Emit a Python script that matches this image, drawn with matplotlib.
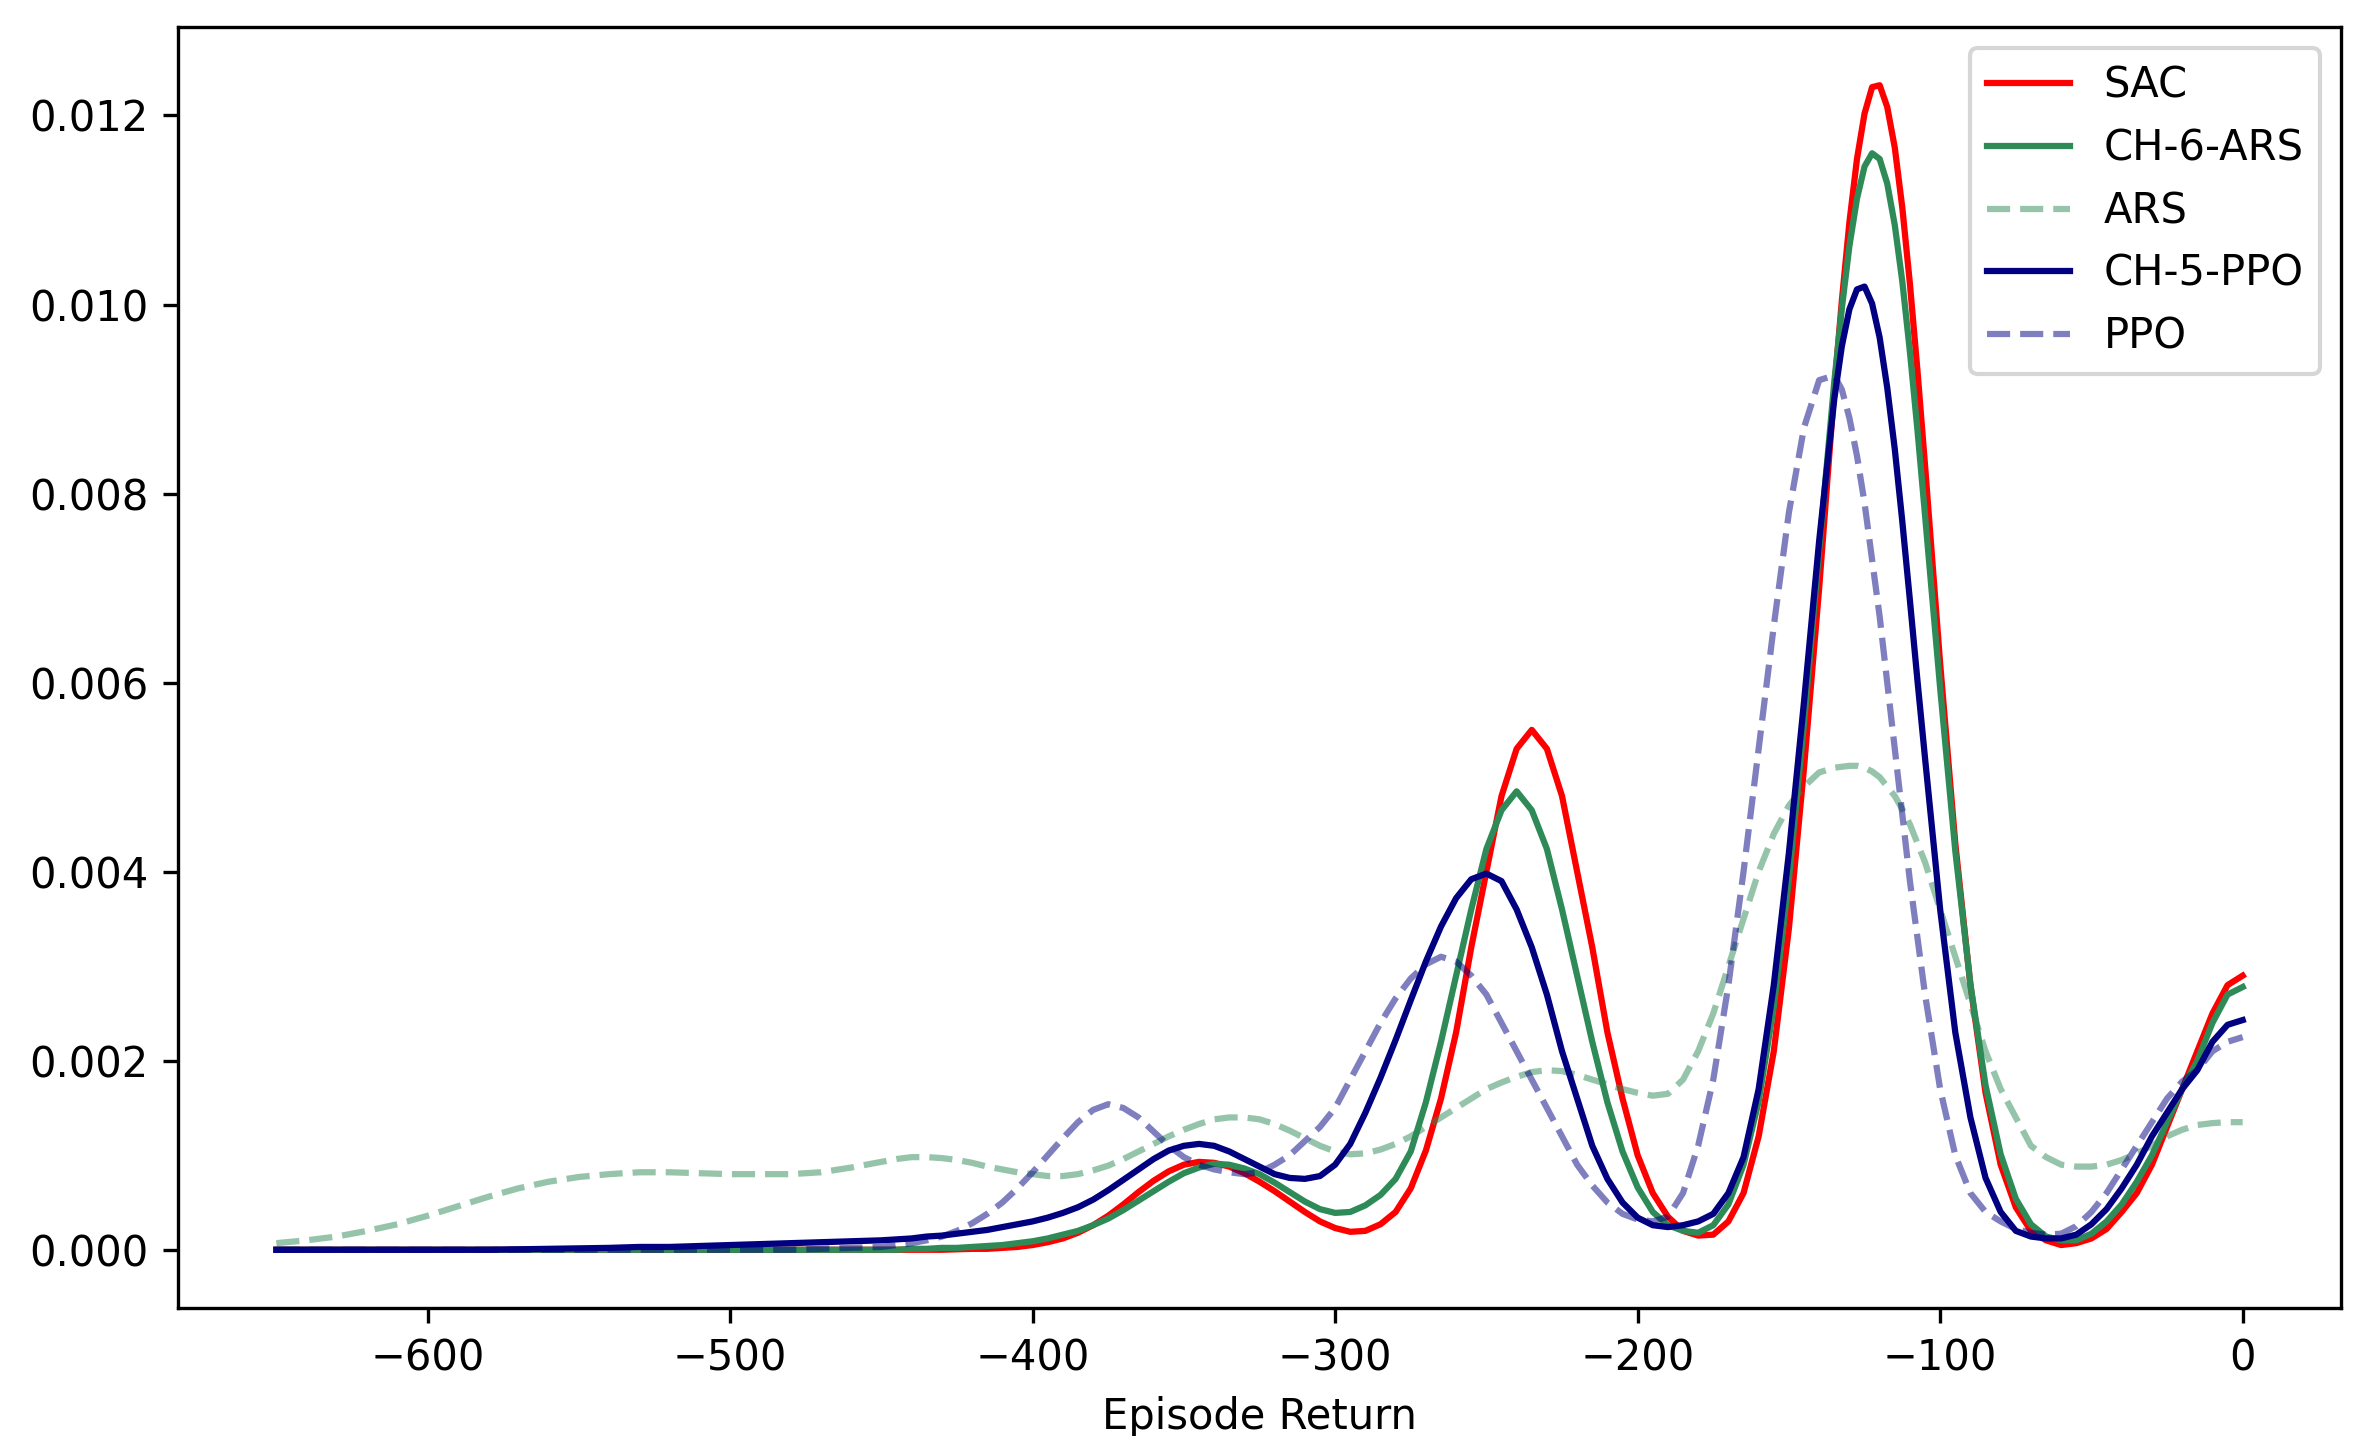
import numpy as np
import matplotlib
matplotlib.use("Agg")
import matplotlib.pyplot as plt

# x grid (Episode Return): coarser where curves are flat, finer around the main peak
episode_return = np.concatenate([
    np.arange(-650, -450, 10),
    np.arange(-450, -135, 5),
    np.arange(-135, -105, 2.5),
    np.arange(-105, 1, 5),
])

sac = [0] * 20 + [
    0, 0, 0, 0, 0, 0.000005, 0.00001, 0.00001, 0.00002, 0.00003,
    0.00005, 0.00008, 0.00012, 0.00018, 0.00026, 0.00036, 0.00048, 0.00061, 0.00073, 0.00083,
    0.0009, 0.00093, 0.00092, 0.00088, 0.00081, 0.00072, 0.00062, 0.00051, 0.0004, 0.0003,
    0.00023, 0.00019, 0.0002, 0.00027, 0.0004, 0.00065, 0.00105, 0.0016, 0.0023, 0.0032,
    0.004, 0.0048, 0.0053, 0.0055, 0.0053, 0.0048, 0.004, 0.0032, 0.0023, 0.0016,
    0.001, 0.0006, 0.00035, 0.0002, 0.00015, 0.00016, 0.0003, 0.0006, 0.0012, 0.0021,
    0.0034, 0.0051, 0.007,
    0.0091, 0.01004, 0.01087, 0.01154, 0.01202, 0.0123, 0.01232, 0.01209, 0.01166, 0.01102, 0.01022, 0.0093,
    0.0083,
    0.0062, 0.0043, 0.0028, 0.00166, 0.0009, 0.00045, 0.0002, 0.0001, 0.00005, 0.00007,
    0.00012, 0.00022, 0.0004, 0.0006, 0.0009, 0.0013, 0.0017, 0.0021, 0.0025, 0.0028,
    0.0029]

ch6_ars = [0] * 20 + [
    0, 0, 0.00001, 0.00001, 0.00002, 0.00002, 0.00003, 0.00004, 0.00005, 0.00007,
    0.00009, 0.00012, 0.00016, 0.0002, 0.00026, 0.00033, 0.00042, 0.00052, 0.00062, 0.00072,
    0.00081, 0.00087, 0.00091, 0.0009, 0.00086, 0.0008, 0.00071, 0.00061, 0.00051, 0.00043,
    0.00039, 0.0004, 0.00047, 0.00058, 0.00075, 0.00104, 0.00156, 0.0022, 0.0029, 0.0036,
    0.00424, 0.00465, 0.00485, 0.00465, 0.00424, 0.0036, 0.0029, 0.0022, 0.00156, 0.00104,
    0.00066, 0.0004, 0.00026, 0.0002, 0.00018, 0.00026, 0.00048, 0.0009, 0.00157, 0.00257,
    0.00392, 0.00557, 0.0074,
    0.00918, 0.00996, 0.01062, 0.01112, 0.01146, 0.0116, 0.01154, 0.01128, 0.01084, 0.01024, 0.0095, 0.00867,
    0.00777,
    0.00594, 0.00422, 0.00281, 0.00174, 0.00101, 0.00054, 0.00027, 0.00014, 0.0001, 0.0001,
    0.00017, 0.0003, 0.00048, 0.00072, 0.001, 0.00135, 0.0017, 0.002, 0.0024, 0.0027,
    0.00278]

ars = [
    0.00007, 0.0001, 0.00014, 0.0002, 0.00027, 0.00036, 0.00046, 0.00056, 0.00065, 0.00072,
    0.00077, 0.0008, 0.00082, 0.00082, 0.00081, 0.0008, 0.0008, 0.0008, 0.00082, 0.00087,
    0.00093, 0.00096, 0.00098, 0.00098, 0.00097, 0.00095, 0.00092, 0.00088, 0.00085, 0.00082,
    0.0008, 0.00078, 0.00078, 0.0008, 0.00084, 0.00089, 0.00096, 0.00104, 0.00112, 0.0012,
    0.00127, 0.00133, 0.00138, 0.0014, 0.0014, 0.00138, 0.00133, 0.00126, 0.00118, 0.0011,
    0.00104, 0.00101, 0.00102, 0.00106, 0.00112, 0.0012, 0.0013, 0.0014, 0.0015, 0.0016,
    0.0017, 0.00177, 0.00183, 0.00188, 0.0019, 0.00189, 0.00185, 0.0018, 0.00175, 0.0017,
    0.00166, 0.00163, 0.00165, 0.0018, 0.0021, 0.0025, 0.003, 0.0035, 0.004, 0.0044,
    0.0047, 0.0049, 0.00505,
    0.0051, 0.00511, 0.00512, 0.00512, 0.0051, 0.00506, 0.005, 0.0049, 0.0048, 0.00466, 0.0045, 0.0043,
    0.0041,
    0.0036, 0.0031, 0.0026, 0.0021, 0.0017, 0.0014, 0.0011, 0.00098, 0.0009, 0.00088,
    0.00088, 0.0009, 0.00095, 0.00102, 0.0011, 0.0012, 0.00127, 0.00132, 0.00134, 0.00135,
    0.00135]

ch5_ppo = [
    0, 0, 0, 0, 0, 0, 0, 0, 0.000005, 0.00001,
    0.000015, 0.00002, 0.00003, 0.00003, 0.00004, 0.00005, 0.00006, 0.00007, 0.00008, 0.00009,
    0.0001, 0.00011, 0.00012, 0.00014, 0.00015, 0.00017, 0.00019, 0.00021, 0.00024, 0.00027,
    0.0003, 0.00034, 0.00039, 0.00045, 0.00053, 0.00063, 0.00074, 0.00085, 0.00096, 0.00105,
    0.0011, 0.00112, 0.0011, 0.00104, 0.00096, 0.00088, 0.0008, 0.00076, 0.00075, 0.00078,
    0.0009, 0.00112, 0.00145, 0.00182, 0.00222, 0.00264, 0.00305, 0.00342, 0.00372, 0.00392,
    0.00398, 0.0039, 0.0036, 0.0032, 0.0027, 0.0021, 0.0016, 0.0011, 0.00075, 0.0005,
    0.00034, 0.00026, 0.00024, 0.00026, 0.0003, 0.00038, 0.0006, 0.00098, 0.0017, 0.0028,
    0.0042, 0.0058, 0.0075,
    0.009, 0.00956, 0.00995, 0.01016, 0.01019, 0.01001, 0.00965, 0.00912, 0.00847, 0.0077, 0.00687, 0.00602,
    0.0052,
    0.0036, 0.0023, 0.0014, 0.00076, 0.0004, 0.0002, 0.00014, 0.00012, 0.00012, 0.00016,
    0.00027, 0.00043, 0.00065, 0.0009, 0.0012, 0.00145, 0.0017, 0.0019, 0.0022, 0.00238,
    0.00243]

ppo = [0] * 18 + [0.00001, 0.00002] + [
    0.00003, 0.00005, 0.00007, 0.0001, 0.00014, 0.0002, 0.00028, 0.00038, 0.0005, 0.00065,
    0.00082, 0.001, 0.00118, 0.00135, 0.00148, 0.00154, 0.0015, 0.0014, 0.00125, 0.0011,
    0.00098, 0.0009, 0.00085, 0.00082, 0.0008, 0.00082, 0.0009, 0.001, 0.00115, 0.0013,
    0.0015, 0.0018, 0.0021, 0.0024, 0.00266, 0.00287, 0.00302, 0.0031, 0.00305, 0.0029,
    0.0027, 0.0024, 0.0021, 0.0018, 0.0015, 0.0012, 0.0009, 0.00068, 0.0005, 0.00038,
    0.00032, 0.0003, 0.00035, 0.0006, 0.0011, 0.0018, 0.0028, 0.004, 0.0053, 0.0066,
    0.0078, 0.0087, 0.0092,
    0.00925, 0.0091, 0.0088, 0.0084, 0.0079, 0.0073, 0.0067, 0.006, 0.0053, 0.0046, 0.0039, 0.0033,
    0.0027,
    0.0017, 0.001, 0.0006, 0.0004, 0.0003, 0.00022, 0.00018, 0.00016, 0.00017, 0.00025,
    0.0004, 0.0006, 0.00085, 0.0011, 0.00135, 0.0016, 0.00178, 0.0019, 0.0021, 0.0022,
    0.00225]

series_labels = ["SAC", "CH-6-ARS", "ARS", "CH-5-PPO", "PPO"]

fig = plt.figure(figsize=(2371 / 300, 1436 / 300), dpi=300)
ax = fig.add_axes([178 / 2371, 1 - 1308 / 1436, (2341 - 178) / 2371, (1308 - 27) / 1436])

ax.plot(episode_return, sac, color="red", lw=1.5, label=series_labels[0])
ax.plot(episode_return, ch6_ars, color="seagreen", lw=1.5, label=series_labels[1])
ax.plot(episode_return, ars, color="seagreen", lw=1.5, ls="--", alpha=0.5, label=series_labels[2])
ax.plot(episode_return, ch5_ppo, color="navy", lw=1.5, label=series_labels[3])
ax.plot(episode_return, ppo, color="navy", lw=1.5, ls="--", alpha=0.5, label=series_labels[4])

ax.set_xlabel("Episode Return", fontsize=10)
ax.tick_params(labelsize=10)
ax.legend(loc="upper right", fontsize=10)

fig.savefig("out.png", dpi=300)
